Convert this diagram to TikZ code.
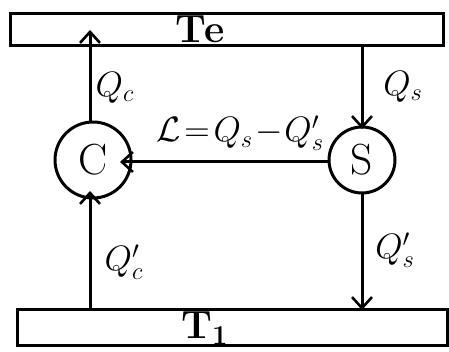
\documentclass[tikz,border=0pt]{standalone}
\usetikzlibrary{arrows.meta}
\begin{document}
\begin{tikzpicture}[x=1pt,y=-1pt,
  line width=3pt,
  res/.style={draw,line width=3pt},
  mach/.style={draw,circle,line width=3pt,inner sep=0pt},
  flow/.style={-{Straight Barb[length=11pt,width=20pt,line width=2.6pt]}},
  lbl/.style={font=\huge,scale=1.7},
  big/.style={font=\huge\bfseries,scale=1.9}]
\useasboundingbox (0,0) rectangle (449,352);
% reservoirs
\node[res,minimum width=433pt,minimum height=32pt] (top) at (226.5,30) {};
\node[res,minimum width=430pt,minimum height=36pt] (bot) at (232,327) {};
\node[big] (Te) at (200,29) {T\kern-1pt e};
\node[big] (T1) at (205,328) {T$_{\mathbf{1}}$};
% machines
\node[mach,minimum size=76pt] (C) at (93,160) {};
\node[font=\huge,scale=2.1] at (C) {C};
\node[mach,minimum size=66pt] (S) at (362,160) {};
\node[font=\huge,scale=2.1] at (S) {S};
% helper coordinates
\coordinate (ctop) at (90,122);
\coordinate (ctip) at (90,30);
\coordinate (cbot) at (90,309);
\coordinate (cin) at (90,191);
\coordinate (stop) at (362,46);
\coordinate (sin) at (362,129);
\coordinate (sbot) at (362,193);
\coordinate (sout) at (362,310);
\coordinate (hl) at (329,162);
\coordinate (hr) at (120,162);
% flows
\draw[flow] (ctop) -- (ctip);
\draw[flow] (cbot) -- (cin);
\draw[flow] (stop) -- (sin);
\draw[flow] (sbot) -- (sout);
\draw[flow] (hl) -- (hr);
% labels
\node[lbl] (Qc) at (115,88) {$Q_c$};
\node[lbl] (Qs) at (403,87) {$Q_s$};
\node[lbl] (L) at (240,133) {$\mathcal{L}\!=\!Q_s\!-\!Q'_s$};
\node[lbl] (Qcp) at (124,262) {$Q'_c$};
\node[lbl] (Qsp) at (395,250) {$Q_s'$};
\end{tikzpicture}
\end{document}
